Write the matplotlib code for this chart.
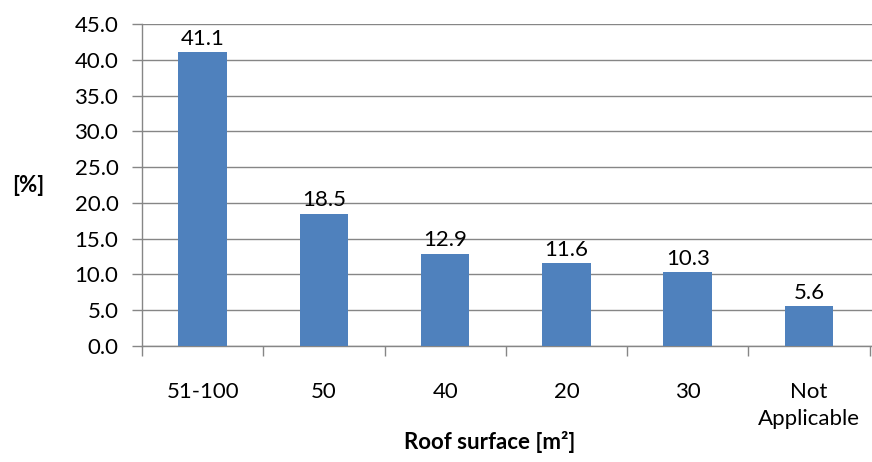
import matplotlib.pyplot as plt
import numpy as np

categories = ["51-100", "50", "40", "20", "30", "Not\nApplicable"]
values = [41.1, 18.5, 12.9, 11.6, 10.3, 5.6]
y_ticks = [0, 5, 10, 15, 20, 25, 30, 35, 40, 45]

plt.rcParams['font.family'] = ['Lato', 'DejaVu Sans']
grey = "#868686"
fs = 16

fig = plt.figure(figsize=(8.72, 4.62), dpi=100)
ax = fig.add_axes([142 / 872, 116 / 462, 730 / 872, 322 / 462])

x = np.arange(len(categories))
bars = ax.bar(x, values, width=0.4, color="#4F81BD", zorder=3)
for b, v in zip(bars, values):
    ax.text(b.get_x() + b.get_width() / 2, v + 0.45, f"{v:.1f}",
            ha="center", va="bottom", fontsize=fs)

ax.set_xlim(-0.5, len(categories) - 0.5 + 0.02)
ax.set_ylim(0, 45)
ax.set_yticks(y_ticks)
ax.set_yticklabels([f"{t:.1f}" for t in y_ticks], fontsize=fs)
ax.yaxis.grid(True, color=grey, linewidth=1, zorder=0)

ax.set_xticks(x)
ax.set_xticklabels(categories, fontsize=fs, linespacing=1.4, va="top")
ax.tick_params(axis="x", length=0, pad=26)
ax.set_xticks(np.arange(len(categories) + 1) - 0.5, minor=True)
ax.tick_params(axis="x", which="minor", length=7, color=grey, width=1)
ax.tick_params(axis="y", length=7, color=grey, width=1, pad=10)

for side in ["top", "right"]:
    ax.spines[side].set_visible(False)
for side in ["left", "bottom"]:
    ax.spines[side].set_color(grey)
    ax.spines[side].set_linewidth(1)

fig.text(28 / 872, 1 - 186 / 462, "[%]", fontsize=fs, fontweight="bold",
         ha="center", va="center")
fig.text(490 / 872, 1 - 442 / 462, "Roof surface [m²]", fontsize=fs,
         fontweight="bold", ha="center", va="center")

fig.savefig("out.png", dpi=100)
